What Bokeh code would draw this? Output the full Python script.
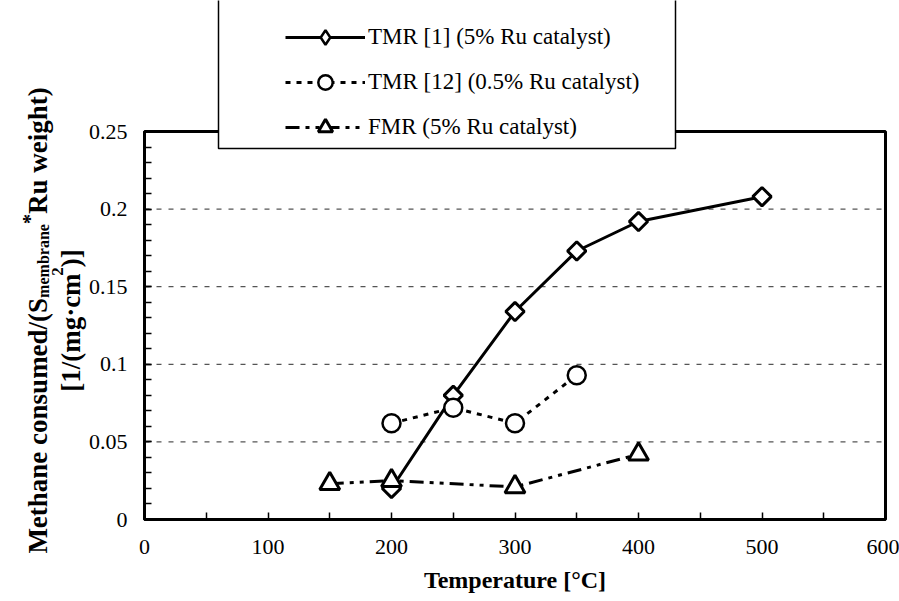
import math
from bokeh.plotting import figure
from bokeh.models import (FixedTicker, Legend, LegendItem, BoxAnnotation, Range1d, ColumnDataSource,
                          LinearAxis, Grid)
from bokeh.core.properties import value
from bokeh.embed import file_html
from bokeh.resources import INLINE

# ---------------- data ----------------
x_tmr1 = [200, 250, 300, 350, 400, 500]
y_tmr1 = [0.020, 0.080, 0.134, 0.173, 0.192, 0.208]
x_tmr12 = [200, 250, 300, 350]
y_tmr12 = [0.062, 0.072, 0.062, 0.093]
x_fmr = [150, 200, 300, 400]
y_fmr = [0.023, 0.025, 0.021, 0.042]
series_labels = ["TMR [1] (5% Ru catalyst)", "TMR [12] (0.5% Ru catalyst)", "FMR (5% Ru catalyst)"]
x_ticks = [0, 100, 200, 300, 400, 500, 600]
x_minor = [50, 150, 250, 350, 450, 550]
y_ticks = [0, 0.05, 0.1, 0.15, 0.2, 0.25]
y_tick_labels = ["0", "0.05", "0.1", "0.15", "0.2", "0.25"]
y_minor = [i / 100 for i in range(0, 26)]
grid_ticks = [0.05, 0.1, 0.15, 0.2]
x_title = "Temperature [°C]"
y_title_line1 = [("Methane consumed/(S", 27, 37), ("membrane", 16, 43), ("*", 20, 29), ("Ru weight)", 27, 37)]
y_title_line2 = [("[1/(mg·cm", 27, 70), ("2", 17, 57), (")]", 27, 70)]

# ---------------- geometry (canvas pixels) ----------------
W, H = 899, 601
FL, FR, FT, FB = 144, 885, 131, 519   # plot box edges for x 0..600, y 0..0.25
XMAX, YMAX = 600, 0.25
SERIF = "Liberation Serif"

kx = XMAX / (FR - FL)      # data units per pixel
ky = YMAX / (FB - FT)


def dx(cx):
    return (cx - FL) * kx


def dy(cy):
    return (FB - cy) * ky


# the frame covers the whole canvas; axes are pinned at x=0 / y=0
p = figure(width=W, height=H, x_range=Range1d(dx(0), dx(W)), y_range=Range1d(dy(H), dy(0)),
           output_backend="svg", toolbar_location=None,
           x_axis_location=None, y_axis_location=None,
           min_border=0, min_border_left=0, min_border_right=0, min_border_top=0, min_border_bottom=0,
           background_fill_color="white", border_fill_color="white")
p.outline_line_alpha = 0
# drop the default grids
p.center = [r for r in p.center if not isinstance(r, Grid)]

xa = LinearAxis(fixed_location=0, ticker=FixedTicker(ticks=x_ticks, minor_ticks=x_minor), bounds=(0, XMAX))
xa.axis_line_width = 3
xa.major_tick_in = 7
xa.major_tick_out = 0
xa.minor_tick_in = 7
xa.minor_tick_out = 0
xa.major_tick_line_width = 1.5
xa.minor_tick_line_width = 1.5
xa.major_label_text_font = SERIF
xa.major_label_text_font_size = "22px"
xa.major_label_text_color = "black"
xa.major_label_standoff = 20
xa.axis_label = x_title
xa.axis_label_text_font = SERIF
xa.axis_label_text_font_size = "24px"
xa.axis_label_text_font_style = "bold"
xa.axis_label_text_color = "black"
xa.axis_label_standoff = 10
p.add_layout(xa, "below")

ya = LinearAxis(fixed_location=0, ticker=FixedTicker(ticks=y_ticks, minor_ticks=y_minor), bounds=(0, YMAX))
ya.major_label_overrides = dict(zip(y_ticks, y_tick_labels))
ya.axis_line_width = 3
ya.major_tick_in = 7
ya.major_tick_out = 0
ya.minor_tick_in = 7
ya.minor_tick_out = 0
ya.major_tick_line_width = 1.5
ya.minor_tick_line_width = 1.5
ya.major_label_text_font = SERIF
ya.major_label_text_font_size = "22px"
ya.major_label_text_color = "black"
ya.major_label_standoff = 17
p.add_layout(ya, "left")

# horizontal dashed gridlines, limited to the plot box
p.segment(x0=[0] * len(grid_ticks), y0=grid_ticks, x1=[XMAX] * len(grid_ticks), y1=grid_ticks,
          line_color="#555555", line_width=1.2, line_dash="5 7")

# ---------------- series ----------------
l1 = p.line(x_tmr1, y_tmr1, line_color="black", line_width=3)
# small diamond hidden under the rotated squares: gives the legend its diamond symbol
d1 = p.scatter(x_tmr1, y_tmr1, marker="diamond", size=12,
               fill_color="white", line_color="black", line_width=2.5)
s1 = p.scatter(x_tmr1, y_tmr1, marker="square", angle=math.pi / 4, size=13,
               fill_color="white", line_color="black", line_width=3)
l2 = p.line(x_tmr12, y_tmr12, line_color="black", line_width=3, line_dash="5 6")
s2 = p.scatter(x_tmr12, y_tmr12, marker="circle", size=18,
               fill_color="white", line_color="black", line_width=2.5)
l3 = p.line(x_fmr, y_fmr, line_color="black", line_width=3, line_dash="14 6 4 6 4 6")
s3 = p.scatter(x_fmr, y_fmr, marker="triangle", size=20,
               fill_color="white", line_color="black", line_width=3)

# ---------------- plot box border (top/right), legend box, legend ----------------
frame_box = BoxAnnotation(left=0, right=XMAX, bottom=0, top=YMAX,
                          fill_alpha=0, line_color="black", line_width=3, line_alpha=1)
p.add_layout(frame_box)

legend_box = BoxAnnotation(left=218, right=675, top=H + 3, bottom=H - 148,
                           left_units="screen", right_units="screen", top_units="screen",
                           bottom_units="screen", fill_color="white", fill_alpha=1,
                           line_color="black", line_width=1.5, line_alpha=1)
p.add_layout(legend_box)

legend = Legend(items=[LegendItem(label=series_labels[0], renderers=[l1, d1]),
                       LegendItem(label=series_labels[1], renderers=[l2, s2]),
                       LegendItem(label=series_labels[2], renderers=[l3, s3])],
                location=(285, H - 145), glyph_width=80, glyph_height=36, label_height=36,
                spacing=9, padding=0, margin=0, label_standoff=3,
                label_text_font=SERIF, label_text_font_size="23px", label_text_color="black",
                border_line_alpha=0, background_fill_alpha=0)
p.add_layout(legend, "center")

# ---------------- y-axis title (rotated text with sub/superscripts) ----------------
TB = {' ': 250, '(': 333, ')': 333, '*': 500, '/': 278, '[': 333, ']': 333, '1': 500, '2': 500,
      '·': 250, 'M': 944, 'R': 722, 'S': 556, 'a': 500, 'b': 556, 'c': 444, 'd': 556, 'e': 444,
      'g': 500, 'h': 556, 'i': 278, 'm': 833, 'n': 556, 'o': 500, 'r': 444, 's': 389, 't': 333,
      'u': 556, 'w': 722}


def tw(s, size):
    return sum(TB.get(c, 500) for c in s) * size / 1000.0


tx, ty, tt, ts = [], [], [], []


def place(pieces, center_cy):
    total = sum(tw(t, s) for t, s, _ in pieces)
    cy = center_cy + total / 2.0
    for text, size, bx in pieces:
        tx.append(dx(bx))
        ty.append(dy(cy))
        tt.append(text)
        ts.append(f"{size}px")
        cy -= tw(text, size)


place(y_title_line1, 320)
place(y_title_line2, 320)

p.text(x="x", y="y", text="text", source=ColumnDataSource(dict(x=tx, y=ty, text=tt, size=ts)),
       text_font_size="size", angle=math.pi / 2, text_align="left", text_baseline="alphabetic",
       text_font=value(SERIF), text_font_style="bold", text_color="black")

open("out.html", "w").write(file_html(p, INLINE))
